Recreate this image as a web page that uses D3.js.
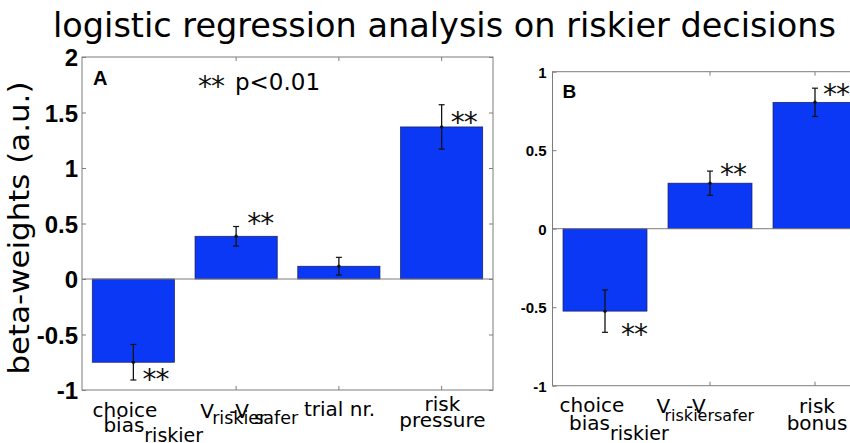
<!DOCTYPE html>
<html><head><meta charset="utf-8">
<script src="https://cdn.jsdelivr.net/npm/d3@7"></script>
<style>body{margin:0;background:#fff}svg{display:block}</style>
</head><body><svg id="c" width="850" height="443"></svg>
<script>
// ---------- data ----------
const chartTitle = "logistic regression analysis on riskier decisions";
const yLabel = "beta-weights (a.u.)";
const sigNote = "p<0.01";

const catsA = ["choice\nbias_{riskier}", "V_{riskier}-V_{safer}", "trial nr.", "risk\npressure"];
const valuesA = [-0.75, 0.385, 0.115, 1.37];
const errorsA = [0.16, 0.088, 0.08, 0.2];
const starYA = [-0.85, 0.555, null, 1.47];
const yTicksA = [-1, -0.5, 0, 0.5, 1, 1.5, 2];
const yTickLabelsA = ["-1", "-0.5", "0", "0.5", "1", "1.5", "2"];

const catsB = ["choice\nbias_{riskier}", "V_{riskier}-V_{safer}", "risk\nbonus"];
const valuesB = [-0.525, 0.29, 0.805];
const errorsB = [0.135, 0.077, 0.09];
const starYB = [-0.635, 0.39, 0.9];
const yTicksB = [-1, -0.5, 0, 0.5, 1];
const yTickLabelsB = ["-1", "-0.5", "0", "0.5", "1"];

// ---------- style ----------
const svg = d3.select("#c");
const BLUE = "#0a38f4";
const FRAME = "#7d7d7d";
const SANS = "'DejaVu Sans', sans-serif";
const HELV = "'Liberation Sans', Arial, sans-serif";

svg.append("text").attr("x", 53).attr("y", 36.5)
  .attr("font-family", SANS).attr("font-size", 33.5).attr("fill", "#000")
  .text(chartTitle);

svg.append("text")
  .attr("transform", "translate(29,228) rotate(-90)")
  .attr("text-anchor", "middle")
  .attr("font-family", SANS).attr("font-size", 29)
  .attr("textLength", 293).attr("lengthAdjust", "spacingAndGlyphs")
  .text(yLabel);

function parseLine(s) {
  const parts = [];
  const re = /_\{([^}]*)\}/g;
  let last = 0, m;
  while ((m = re.exec(s))) {
    if (m.index > last) parts.push({t: s.slice(last, m.index), sub: false});
    parts.push({t: m[1], sub: true});
    last = re.lastIndex;
  }
  if (last < s.length) parts.push({t: s.slice(last), sub: false});
  return parts;
}

function drawLine(g, line, x0, y0, lay) {
  const parts = parseLine(line);
  const t = g.append("text").attr("x", x0 + lay.dx).attr("y", y0 + lay.dy)
    .attr("text-anchor", lay.anchor).attr("font-family", SANS).attr("fill", "#000");
  let cur = false;
  parts.forEach((p, i) => {
    const ts = t.append("tspan").text(p.t).attr("font-size", p.sub ? (lay.subSize || 16) : 20);
    if (lay.px) {
      ts.attr("x", x0 + lay.px[i]).attr("y", y0 + lay.dy + (p.sub ? lay.sub : 0));
    } else {
      const dy = (p.sub && !cur) ? lay.sub : (!p.sub && cur) ? -lay.sub : 0;
      if (dy) ts.attr("dy", dy);
    }
    cur = p.sub;
  });
}

function stars(g, x0, yc, fs) {
  g.append("text").attr("x", x0).attr("y", yc + 0.575 * fs)
    .attr("font-family", SANS).attr("font-size", fs).attr("letter-spacing", -1)
    .attr("fill", "#111").text("**");
}

function panel(c) {
  const x = d3.scaleBand().domain(c.cats).range([c.left, c.right]).paddingInner(0.2).paddingOuter(0.1);
  const y = d3.scaleLinear().domain(c.yDomain).range([c.bottom, c.top]);
  const g = svg.append("g");
  const cx = d => x(d) + x.bandwidth() / 2;

  // bars
  g.selectAll("rect.bar").data(c.cats).join("rect").attr("class", "bar")
    .attr("x", d => x(d)).attr("width", x.bandwidth())
    .attr("y", (d, i) => y(Math.max(0, c.values[i])))
    .attr("height", (d, i) => Math.abs(y(c.values[i]) - y(0)))
    .attr("fill", BLUE).attr("stroke", "#1b1f5a").attr("stroke-width", 0.7);

  // zero line
  g.append("line").attr("x1", c.left).attr("x2", c.right).attr("y1", y(0)).attr("y2", y(0))
    .attr("stroke", FRAME).attr("stroke-width", 1);

  // error bars
  c.cats.forEach((d, i) => {
    const xc = cx(d), lo = y(c.values[i] - c.errors[i]), hi = y(c.values[i] + c.errors[i]);
    g.append("line").attr("x1", xc).attr("x2", xc).attr("y1", lo).attr("y2", hi).attr("stroke", "#111").attr("stroke-width", 1.3);
    [lo, hi].forEach(yy => g.append("line").attr("x1", xc - 3).attr("x2", xc + 3).attr("y1", yy).attr("y2", yy).attr("stroke", "#111").attr("stroke-width", 1.2));
    g.append("circle").attr("cx", xc).attr("cy", y(c.values[i])).attr("r", 1.7).attr("fill", "#111");
    if (c.starY[i] != null) stars(g, xc + c.starDx[i], y(c.starY[i]), 28);
  });

  // frame
  g.append("rect").attr("x", c.left).attr("y", c.top).attr("width", c.right - c.left).attr("height", c.bottom - c.top)
    .attr("fill", "none").attr("stroke", FRAME).attr("stroke-width", 1);

  // y axes (inward ticks)
  const axL = g.append("g").attr("transform", `translate(${c.left},0)`)
    .call(d3.axisLeft(y).tickValues(c.yTicks).tickFormat((d, i) => c.yTickLabels[i]).tickSize(-4).tickPadding(c.tickPad));
  axL.select(".domain").remove();
  axL.selectAll("line").attr("stroke", FRAME);
  axL.selectAll("text").attr("font-family", HELV).attr("font-weight", "bold").attr("font-size", c.tickFont)
    .attr("fill", "#000").attr("dy", "0.36em");
  const axR = g.append("g").attr("transform", `translate(${c.right},0)`)
    .call(d3.axisRight(y).tickValues(c.yTicks).tickFormat("").tickSize(-4));
  axR.select(".domain").remove();
  axR.selectAll("line").attr("stroke", FRAME);

  // x ticks top/bottom (inward)
  c.cats.slice(1).forEach(d => {
    g.append("line").attr("x1", cx(d)).attr("x2", cx(d)).attr("y1", c.top).attr("y2", c.top + 4).attr("stroke", FRAME);
    g.append("line").attr("x1", cx(d)).attr("x2", cx(d)).attr("y1", c.bottom).attr("y2", c.bottom - 4).attr("stroke", FRAME);
  });

  // category labels
  c.cats.forEach((d, i) => {
    d.split("\n").forEach((line, j) => drawLine(g, line, cx(d), c.bottom, c.labelLayout[i][j]));
  });

  // panel letter
  g.append("text").attr("x", c.letterX).attr("y", c.letterY).attr("font-family", HELV)
    .attr("font-weight", "bold").attr("font-size", c.letterSize).attr("fill", "#000").text(c.letter);
  return {x, y, g};
}

panel({
  cats: catsA, values: valuesA, errors: errorsA, starY: starYA, starDx: [9, 11, 0, 9],
  yTicks: yTicksA, yTickLabels: yTickLabelsA, yDomain: [-1, 2],
  left: 82, right: 493, top: 57, bottom: 390, tickFont: 24, tickPad: 4,
  letter: "A", letterX: 93, letterY: 85, letterSize: 20,
  labelLayout: [
    [{dx: -8.4, dy: 27, anchor: "middle"}, {dx: -30, dy: 42, anchor: "start", sub: 10, subSize: 19}],
    [{dx: 0, dy: 28, anchor: "start", sub: 6, subSize: 17.5, px: [-36, -24, -7, 18, 31]}],
    [{dx: 0.7, dy: 25.5, anchor: "middle"}],
    [{dx: 0.8, dy: 20.5, anchor: "middle"}, {dx: 0.8, dy: 37, anchor: "middle"}]
  ]
});

panel({
  cats: catsB, values: valuesB, errors: errorsB, starY: starYB, starDx: [16, 10, 8],
  yTicks: yTicksB, yTickLabels: yTickLabelsB, yDomain: [-1, 1],
  left: 552.5, right: 867.5, top: 71.7, bottom: 385.7, tickFont: 15, tickPad: 6,
  letter: "B", letterX: 562.5, letterY: 97.7, letterSize: 19,
  labelLayout: [
    [{dx: -13, dy: 26, anchor: "middle"}, {dx: -36, dy: 44.3, anchor: "start", sub: 10, subSize: 19}],
    [{dx: 0, dy: 27.6, anchor: "start", sub: 7.7, subSize: 16, px: [-53.5, -45.5, -24, 4, 16]}],
    [{dx: 2, dy: 27.6, anchor: "middle"}, {dx: 2, dy: 44.3, anchor: "middle"}]
  ]
});

// significance note in panel A
stars(svg, 198, 80, 28);
svg.append("text").attr("x", 235).attr("y", 90).attr("font-family", SANS).attr("font-size", 23)
  .attr("fill", "#000").text(sigNote);
</script>
</body></html>
